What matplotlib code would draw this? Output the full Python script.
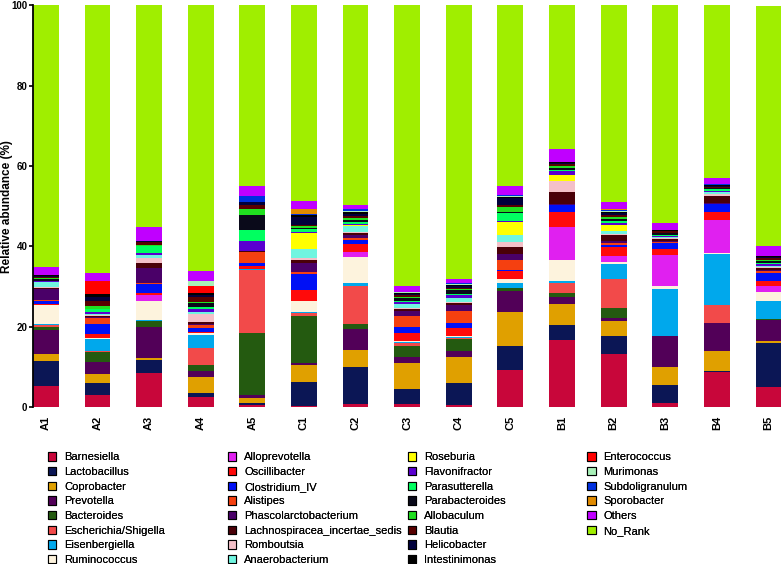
import numpy as np
import matplotlib
matplotlib.use("Agg")
import matplotlib.pyplot as plt

plt.rcParams['font.family'] = ['Liberation Sans Narrow', 'Liberation Sans', 'DejaVu Sans']

samples = ["A1", "A2", "A3", "A4", "A5", "C1", "C2", "C3", "C4", "C5",
           "B1", "B2", "B3", "B4", "B5"]

taxa = ["Barnesiella", "Lactobacillus", "Coprobacter", "Prevotella", "Bacteroides",
        "Escherichia/Shigella", "Eisenbergiella", "Ruminococcus",
        "Alloprevotella", "Oscillibacter", "Clostridium_IV", "Alistipes",
        "Phascolarctobacterium", "Lachnospiracea_incertae_sedis", "Romboutsia",
        "Anaerobacterium", "Roseburia", "Flavonifractor", "Parasutterella",
        "Parabacteroides", "Allobaculum", "Blautia", "Helicobacter", "Intestinimonas",
        "Enterococcus", "Murimonas", "Subdoligranulum", "Sporobacter", "Others", "No_Rank"]

colors = ["#C8063A", "#0B1655", "#E0A000", "#520058", "#245A10",
          "#F24A4A", "#00A8EC", "#FDF3DD",
          "#E020F0", "#FF0A0A", "#0010F5", "#F54010",
          "#4A0068", "#4A0008", "#F4C0C8",
          "#70F5E0", "#FFFF00", "#5A00D0", "#00FF60",
          "#0A0A1A", "#20E020", "#580000", "#00003C", "#000000",
          "#FF0000", "#A8F0B8", "#0030E0", "#E08A00", "#C000FF", "#A0EE00"]

# relative abundance (%) per sample, in the order of `taxa`
A1 = [5.3, 6.3, 1.7, 5.8, 0.9, 0.4, 0.4, 4.5, 0.0, 0.3, 0.8, 0.2, 2.8, 0.2, 0.3,
      1.2, 0.0, 0.2, 0.2, 0.3, 0.3, 0.2, 0.3, 0.2, 0.0, 0.0, 0.1, 0.0, 1.9, 65.2]
A2 = [3.1, 3.0, 2.1, 3.0, 2.5, 0.4, 2.9, 0.3, 0.0, 1.0, 2.5, 1.3, 0.3, 0.2, 0.3,
      0.3, 0.0, 0.6, 0.5, 0.1, 0.8, 1.1, 1.0, 0.8, 3.3, 0.0, 0.0, 0.0, 1.9, 66.7]
A3 = [8.5, 3.3, 0.5, 7.6, 1.6, 0.0, 0.2, 4.7, 1.6, 0.5, 2.2, 0.3, 3.5, 1.3, 1.3,
      0.7, 0.0, 0.6, 1.7, 0.0, 0.2, 0.9, 0.2, 0.0, 0.0, 0.0, 0.0, 0.0, 3.5, 55.1]
A4 = [2.5, 1.0, 4.0, 1.5, 1.4, 4.2, 3.4, 0.4, 0.0, 0.4, 1.0, 0.7, 0.3, 0.3, 2.0,
      0.7, 0.0, 0.6, 0.6, 0.9, 0.2, 1.3, 0.5, 0.5, 1.7, 1.4, 0.0, 0.0, 2.3, 66.1]
A5 = [0.6, 0.4, 1.2, 0.8, 15.4, 15.6, 0.3, 0.0, 0.0, 0.8, 0.7, 2.7, 0.2, 0.2, 0.0,
      0.0, 0.0, 2.5, 2.7, 3.6, 1.6, 1.0, 0.8, 0.0, 0.0, 0.0, 1.5, 0.0, 2.4, 45.0]
C1 = [0.2, 6.0, 4.3, 0.6, 11.7, 0.6, 0.3, 2.7, 0.0, 2.8, 3.9, 0.5, 2.3, 0.7, 0.6,
      2.2, 3.8, 0.3, 0.8, 0.3, 0.4, 0.3, 2.0, 0.4, 0.0, 0.2, 0.2, 1.1, 2.1, 48.7]
C2 = [0.9, 9.2, 4.2, 5.1, 1.2, 9.6, 0.8, 6.3, 1.2, 2.0, 1.1, 0.6, 0.6, 0.4, 0.4,
      1.5, 0.1, 0.3, 0.5, 0.5, 0.5, 0.6, 0.5, 0.4, 0.0, 0.2, 0.5, 0.1, 1.0, 49.7]
C3 = [0.7, 3.8, 6.4, 1.6, 2.7, 0.8, 0.2, 0.2, 0.0, 2.1, 1.5, 2.6, 1.4, 0.5, 0.2,
      0.9, 0.1, 0.5, 0.3, 0.6, 0.4, 0.3, 0.4, 0.3, 0.0, 0.1, 0.1, 0.0, 1.5, 69.8]
C4 = [0.6, 5.5, 6.3, 1.7, 2.8, 0.3, 0.2, 0.4, 0.0, 1.8, 1.4, 2.9, 1.4, 0.5, 0.4,
      0.9, 0.1, 0.7, 0.2, 1.0, 0.2, 0.3, 0.6, 0.3, 0.0, 0.2, 0.1, 0.0, 1.2, 68.0]
C5 = [9.3, 5.8, 8.7, 5.1, 0.7, 0.0, 1.2, 1.0, 0.0, 2.1, 0.3, 2.4, 1.4, 1.8, 1.4,
      1.5, 3.4, 0.2, 1.9, 0.4, 1.3, 0.3, 1.8, 0.2, 0.0, 0.3, 0.2, 0.0, 2.3, 45.0]
B1 = [16.7, 3.7, 5.2, 1.7, 1.1, 2.4, 0.6, 5.1, 8.3, 3.8, 1.7, 0.0, 0.3, 2.8, 2.8,
      0.0, 1.5, 1.1, 0.3, 0.5, 0.3, 0.5, 0.3, 0.2, 0.0, 0.0, 0.0, 0.0, 3.2, 35.9]
B2 = [13.3, 4.4, 3.8, 0.8, 2.3, 7.2, 3.7, 0.7, 1.4, 2.3, 0.4, 0.6, 0.4, 1.5, 0.3,
      0.7, 1.5, 0.6, 0.4, 0.6, 0.3, 0.5, 0.6, 0.3, 0.0, 0.3, 0.2, 0.1, 1.8, 49.0]
B3 = [1.0, 4.4, 4.5, 7.8, 0.1, 0.0, 11.6, 0.8, 7.7, 1.4, 1.5, 0.2, 0.3, 0.5, 0.2,
      0.3, 0.1, 0.2, 0.3, 0.4, 0.1, 0.4, 0.1, 0.2, 0.0, 0.0, 0.0, 0.0, 1.8, 54.0]
B4 = [8.7, 0.2, 5.0, 7.0, 0.0, 4.4, 12.8, 0.2, 8.3, 2.0, 1.9, 0.0, 0.3, 1.8, 0.5,
      0.3, 0.0, 0.3, 0.5, 0.2, 0.2, 0.2, 0.2, 0.2, 0.0, 0.0, 0.2, 0.0, 1.5, 43.1]
B5 = [5.0, 10.9, 0.6, 5.2, 0.3, 0.0, 4.5, 2.2, 1.5, 1.2, 1.9, 0.6, 0.3, 0.5, 0.1,
      0.3, 0.1, 0.5, 0.2, 0.4, 0.3, 0.4, 0.3, 0.2, 0.0, 0.1, 0.1, 0.0, 2.3, 59.8]

abund = np.array([A1, A2, A3, A4, A5, C1, C2, C3, C4, C5, B1, B2, B3, B4, B5]).T

fig = plt.figure(figsize=(7.84, 5.64), dpi=100)
ax = fig.add_axes([0.042, 0.278, 0.956, 0.713])

x = np.arange(len(samples))
bottom = np.zeros(len(samples))
handles = []
for vals, name, col in zip(abund, taxa, colors):
    b = ax.bar(x, vals, width=0.5, bottom=bottom, color=col, label=name,
               linewidth=0)
    handles.append(b)
    bottom += vals

ax.set_xlim(-0.25, 14.27)
ax.set_ylim(0, 100)
ax.set_yticks([0, 20, 40, 60, 80, 100])
ax.set_yticklabels(["0", "20", "40", "60", "80", "100"], fontsize=7, fontweight="bold")
ax.set_ylabel("Relative abundance (%)", fontsize=8.5, fontweight="bold")
ax.yaxis.set_label_coords(-0.027, 0.5)
ax.set_xticks(x)
ax.set_xticklabels(samples, rotation=90, fontsize=8, fontweight="bold")
ax.tick_params(axis="x", length=0, pad=6)
ax.tick_params(axis="y", length=3, width=1.2, pad=1)
for s in ["top", "right", "bottom"]:
    ax.spines[s].set_visible(False)
ax.spines["left"].set_linewidth(1.3)

# legend: four columns of eight rows
col_x = [0.061, 0.291, 0.520, 0.749]
for i, cx in enumerate(col_x):
    h = handles[i * 8:(i + 1) * 8]
    lab = taxa[i * 8:(i + 1) * 8]
    leg = fig.legend(h, lab, loc="upper left", bbox_to_anchor=(cx, 0.198),
                     frameon=False, fontsize=8, handlelength=0.75, handleheight=0.75,
                     handletextpad=0.7, labelspacing=0.42, borderpad=0,
                     borderaxespad=0)
    for p in leg.get_patches():
        p.set_edgecolor("black")
        p.set_linewidth(0.8)
    fig.add_artist(leg)

fig.savefig("out.png", dpi=100)
